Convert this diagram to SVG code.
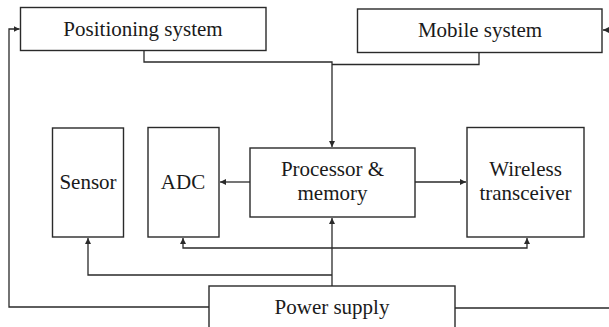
<svg xmlns="http://www.w3.org/2000/svg" width="609" height="327" viewBox="0 0 609 327">
  <style>
    .box { fill: #ffffff; stroke: #2a2a2a; stroke-width: 1.4; }
    .label { font-family: "Liberation Serif", "Times New Roman", serif; font-size: 21px; fill: #1a1a1a; text-anchor: middle; }
    .wire { fill: none; stroke: #2a2a2a; stroke-width: 1.3; }
  </style>
  <defs>
    <marker id="arrow" markerUnits="userSpaceOnUse" markerWidth="7" markerHeight="6" refX="6" refY="3" orient="auto">
      <path d="M0,0 L6,3 L0,6 z" fill="#2a2a2a"/>
    </marker>
  </defs>

  <rect width="609" height="327" fill="#ffffff"/>

  <g id="connectors">
    <!-- positioning and mobile systems feed the processor -->
    <path class="wire" d="M144,51 V62 H332 V147" marker-end="url(#arrow)"/>
    <path class="wire" d="M479,53 V64.5 H332"/>
    <!-- processor to ADC and transceiver -->
    <path class="wire" d="M250,182 H220" marker-end="url(#arrow)"/>
    <path class="wire" d="M415,182 H466" marker-end="url(#arrow)"/>
    <!-- power distribution -->
    <path class="wire" d="M332,286 V218" marker-end="url(#arrow)"/>
    <path class="wire" d="M332,248 H183 V238" marker-end="url(#arrow)"/>
    <path class="wire" d="M332,248 H527 V238" marker-end="url(#arrow)"/>
    <path class="wire" d="M332,275 H88 V238" marker-end="url(#arrow)"/>
    <path class="wire" d="M209,307 H9 V29 H19.5" marker-end="url(#arrow)"/>
    <path class="wire" d="M455,308 H611 V30 H603" marker-end="url(#arrow)"/>
  </g>

  <g id="positioning">
    <rect class="box" x="20.5" y="7.5" width="245.5" height="43"/>
    <text class="label" x="143" y="36">Positioning system</text>
  </g>

  <g id="mobile">
    <rect class="box" x="357.5" y="9" width="244.5" height="43.5"/>
    <text class="label" x="480" y="37">Mobile system</text>
  </g>

  <g id="sensor">
    <rect class="box" x="52.5" y="128" width="71" height="109"/>
    <text class="label" x="88" y="189">Sensor</text>
  </g>

  <g id="adc">
    <rect class="box" x="148" y="127.5" width="71" height="109.5"/>
    <text class="label" x="183" y="189">ADC</text>
  </g>

  <g id="processor">
    <rect class="box" x="250" y="148" width="165" height="69"/>
    <text class="label" x="332.5" y="176">Processor &amp;</text>
    <text class="label" x="332.5" y="200">memory</text>
  </g>

  <g id="transceiver">
    <rect class="box" x="467" y="127.5" width="117" height="109.5"/>
    <text class="label" x="525.5" y="176">Wireless</text>
    <text class="label" x="525.5" y="200">transceiver</text>
  </g>

  <g id="power">
    <rect class="box" x="209" y="286" width="246" height="60"/>
    <text class="label" x="332" y="314">Power supply</text>
  </g>
</svg>
